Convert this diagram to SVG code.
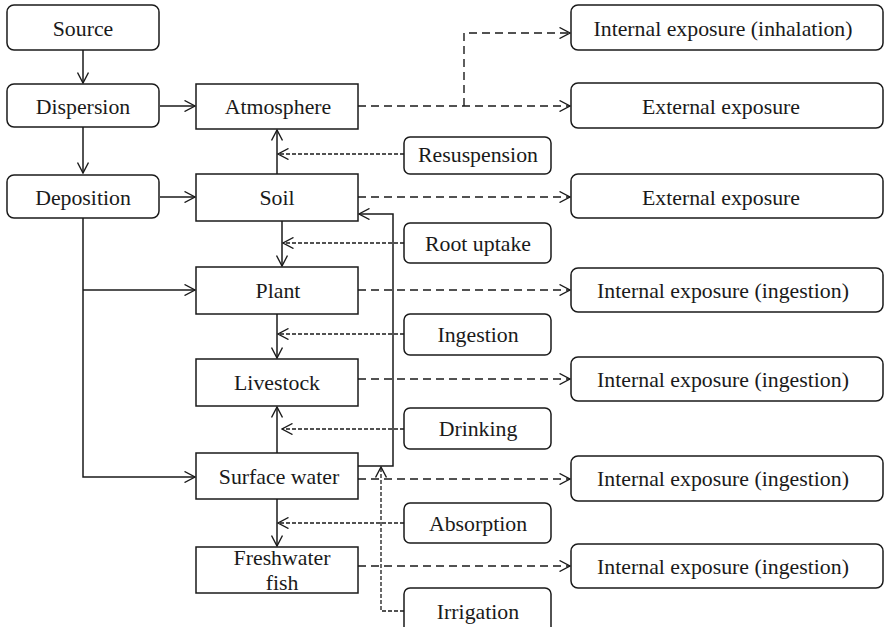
<svg xmlns="http://www.w3.org/2000/svg" width="888" height="627" viewBox="0 0 888 627">
<defs>
<marker id="arr" viewBox="0 0 12 12" refX="11" refY="6" markerWidth="12" markerHeight="12" markerUnits="userSpaceOnUse" orient="auto">
<path d="M0.5,0.5 L11,6 L0.5,11.5" fill="none" stroke="#1a1a1a" stroke-width="1.4"/>
</marker>
</defs>
<style>
.rbox{fill:#fff;stroke:#1a1a1a;stroke-width:1.5}
.box{fill:#fff;stroke:#1a1a1a;stroke-width:1.5}
text{font-family:"Liberation Serif","Times New Roman",serif;font-size:21.8px;fill:#1a1a1a;text-anchor:middle}
.s{fill:none;stroke:#1a1a1a;stroke-width:1.5}
.d{fill:none;stroke:#1a1a1a;stroke-width:1.4;stroke-dasharray:8 5}
.f{fill:none;stroke:#1a1a1a;stroke-width:1.3;stroke-dasharray:4 2}
</style>
<rect width="888" height="627" fill="#fff"/>
<g id="connectors">
<path class="s" d="M83,50 V83" marker-end="url(#arr)"/>
<path class="s" d="M83,127 V173" marker-end="url(#arr)"/>
<path class="s" d="M160,106 H195" marker-end="url(#arr)"/>
<path class="s" d="M160,197 H195" marker-end="url(#arr)"/>
<path class="s" d="M83,218 V477 H195" marker-end="url(#arr)"/>
<path class="s" d="M83,290 H195" marker-end="url(#arr)"/>
<path class="s" d="M277,174 V130" marker-end="url(#arr)"/>
<path class="s" d="M282,221 V266" marker-end="url(#arr)"/>
<path class="s" d="M277,314 V358" marker-end="url(#arr)"/>
<path class="s" d="M277,453 V407" marker-end="url(#arr)"/>
<path class="s" d="M277,499 V546" marker-end="url(#arr)"/>
<path class="s" d="M358,466 H393 V214 H359" marker-end="url(#arr)"/>
<path class="f" d="M404,154 H278" marker-end="url(#arr)"/>
<path class="f" d="M404,243 H283" marker-end="url(#arr)"/>
<path class="f" d="M404,334 H278" marker-end="url(#arr)"/>
<path class="f" d="M404,429 H282" marker-end="url(#arr)"/>
<path class="f" d="M404,523 H278" marker-end="url(#arr)"/>
<path class="f" d="M404,611 H381 V467" marker-end="url(#arr)"/>
<path class="d" d="M358,106 H570" marker-end="url(#arr)"/>
<path class="d" d="M464,106 V33 H570" marker-end="url(#arr)"/>
<path class="d" d="M358,197 H570" marker-end="url(#arr)"/>
<path class="d" d="M358,290 H570" marker-end="url(#arr)"/>
<path class="d" d="M358,379 H570" marker-end="url(#arr)"/>
<path class="d" d="M358,479 H570" marker-end="url(#arr)"/>
<path class="d" d="M358,566 H570" marker-end="url(#arr)"/>
</g>
<g id="source"><rect class="rbox" x="7" y="5" width="152" height="45" rx="7"/><text x="83" y="36">Source</text></g>
<g id="dispersion"><rect class="rbox" x="7" y="84" width="152" height="43" rx="7"/><text x="83" y="114">Dispersion</text></g>
<g id="deposition"><rect class="rbox" x="7" y="175" width="152" height="43" rx="7"/><text x="83" y="205">Deposition</text></g>
<g id="atmosphere"><rect class="box" x="196" y="84" width="162" height="45"/><text x="278" y="114">Atmosphere</text></g>
<g id="soil"><rect class="box" x="196" y="174" width="162" height="47"/><text x="277" y="205">Soil</text></g>
<g id="plant"><rect class="box" x="196" y="267" width="162" height="47"/><text x="278" y="298">Plant</text></g>
<g id="livestock"><rect class="box" x="196" y="359" width="162" height="47"/><text x="277" y="390">Livestock</text></g>
<g id="surface-water"><rect class="box" x="196" y="453" width="162" height="46"/><text x="279" y="484">Surface water</text></g>
<g id="freshwater-fish"><rect class="box" x="196" y="547" width="162" height="46"/><text x="282" y="565">Freshwater</text><text x="282" y="590">fish</text></g>
<g id="resuspension"><rect class="rbox" x="404" y="137" width="147" height="37" rx="6"/><text x="478" y="162">Resuspension</text></g>
<g id="root-uptake"><rect class="rbox" x="404" y="223" width="147" height="40" rx="6"/><text x="478" y="251">Root uptake</text></g>
<g id="ingestion"><rect class="rbox" x="404" y="314" width="147" height="41" rx="6"/><text x="478" y="342">Ingestion</text></g>
<g id="drinking"><rect class="rbox" x="404" y="408" width="147" height="41" rx="6"/><text x="478" y="436">Drinking</text></g>
<g id="absorption"><rect class="rbox" x="404" y="503" width="147" height="40" rx="6"/><text x="478" y="531">Absorption</text></g>
<g id="irrigation"><rect class="rbox" x="404" y="588" width="147" height="46" rx="6"/><text x="478" y="619">Irrigation</text></g>
<g id="exp-inhalation"><rect class="rbox" x="571" y="5" width="312" height="45" rx="7"/><text x="723" y="36">Internal exposure (inhalation)</text></g>
<g id="exp-external-1"><rect class="rbox" x="571" y="83" width="312" height="45" rx="7"/><text x="721" y="114">External exposure</text></g>
<g id="exp-external-2"><rect class="rbox" x="571" y="174" width="312" height="44" rx="7"/><text x="721" y="205">External exposure</text></g>
<g id="exp-ingestion-1"><rect class="rbox" x="571" y="268" width="312" height="44" rx="7"/><text x="723" y="298">Internal exposure (ingestion)</text></g>
<g id="exp-ingestion-2"><rect class="rbox" x="571" y="357" width="312" height="44" rx="7"/><text x="723" y="387">Internal exposure (ingestion)</text></g>
<g id="exp-ingestion-3"><rect class="rbox" x="571" y="456" width="312" height="45" rx="7"/><text x="723" y="486">Internal exposure (ingestion)</text></g>
<g id="exp-ingestion-4"><rect class="rbox" x="571" y="544" width="312" height="44" rx="7"/><text x="723" y="574">Internal exposure (ingestion)</text></g>
</svg>
